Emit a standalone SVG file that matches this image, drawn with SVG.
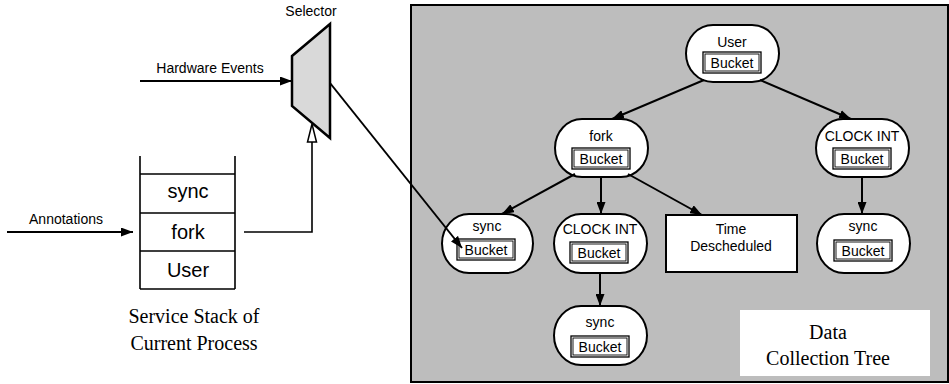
<svg xmlns="http://www.w3.org/2000/svg" width="949" height="384" viewBox="0 0 949 384">
  <defs>
    <marker id="arrow" markerUnits="userSpaceOnUse" markerWidth="13" markerHeight="9" refX="12" refY="4.5" orient="auto">
      <path d="M0,0 L12,4.5 L0,9 z" fill="#000"/>
    </marker>
    <style>
      .sans { font-family: "Liberation Sans", Arial, sans-serif; fill: #000; }
      .serif { font-family: "Liberation Serif", "Times New Roman", serif; fill: #000; }
      .lbl { font-size: 14px; text-anchor: middle; }
      .cell { font-size: 20px; text-anchor: middle; }
      .cap { font-size: 20px; text-anchor: middle; }
      .node { fill: #fff; stroke: #000; stroke-width: 2; }
      .bucket-o { fill: #fff; stroke: #000; stroke-width: 1.3; }
      .bucket-i { fill: none; stroke: #000; stroke-width: 0.9; }
      .edge { stroke: #000; stroke-width: 2; fill: none; marker-end: url(#arrow); }
      .thin { stroke: #000; stroke-width: 1.6; fill: none; }
    </style>
    <!-- bucket box placed inside each tree node -->
    <g id="bucket">
      <rect class="bucket-o" x="-29" y="0" width="58" height="21"/>
      <rect class="bucket-i" x="-27" y="2" width="54" height="17"/>
      <text class="sans lbl" x="0" y="15.5">Bucket</text>
    </g>
  </defs>

  <!-- data collection tree panel -->
  <rect x="411" y="5" width="537" height="377" fill="#bdbdbd" stroke="#000" stroke-width="2"/>
  <rect x="740" y="310" width="190" height="66" fill="#fff"/>
  <text class="serif cap" x="828" y="339">Data</text>
  <text class="serif cap" x="828" y="365">Collection Tree</text>

  <!-- selector -->
  <g id="selector">
    <polygon points="292,56 330,24 330,138 292,106" fill="#d9d9d9" stroke="#000" stroke-width="2.5" stroke-linejoin="miter"/>
    <text class="sans lbl" x="311" y="16">Selector</text>
  </g>

  <!-- service stack -->
  <g id="stack">
    <path class="thin" d="M140,156 V289 M235,156 V289 M140,174 H235 M140,213 H235 M140,251 H235 M140,289 H235"/>
    <text class="sans cell" x="188" y="198">sync</text>
    <text class="sans cell" x="188" y="239">fork</text>
    <text class="sans cell" x="188" y="277">User</text>
    <text class="serif cap" x="194" y="323">Service Stack of</text>
    <text class="serif cap" x="194" y="350">Current Process</text>
  </g>

  <!-- tree nodes -->
  <g id="n-user">
    <rect class="node" x="686" y="25" width="93" height="57" rx="27" ry="28.5"/>
    <text class="sans lbl" x="732" y="47">User</text>
    <use href="#bucket" x="732" y="52"/>
  </g>
  <g id="n-fork">
    <rect class="node" x="555" y="119" width="93" height="58" rx="27" ry="29"/>
    <text class="sans lbl" x="601" y="141">fork</text>
    <use href="#bucket" x="601" y="148"/>
  </g>
  <g id="n-clock-r">
    <rect class="node" x="816" y="119" width="93" height="58" rx="27" ry="29"/>
    <text class="sans lbl" x="862" y="141">CLOCK INT</text>
    <use href="#bucket" x="862" y="148"/>
  </g>
  <g id="n-sync-l">
    <rect class="node" x="442" y="214" width="91" height="59" rx="27" ry="29.5"/>
    <text class="sans lbl" x="487" y="231">sync</text>
    <use href="#bucket" x="486" y="239"/>
  </g>
  <g id="n-clock-m">
    <rect class="node" x="554" y="214" width="93" height="59" rx="27" ry="29.5"/>
    <text class="sans lbl" x="600" y="234">CLOCK INT</text>
    <use href="#bucket" x="599" y="242"/>
  </g>
  <g id="n-time">
    <rect class="node" x="666" y="215" width="131" height="57"/>
    <text class="sans lbl" x="731" y="234">Time</text>
    <text class="sans lbl" x="731" y="251">Descheduled</text>
  </g>
  <g id="n-sync-r">
    <rect class="node" x="817" y="214" width="93" height="59" rx="27" ry="29.5"/>
    <text class="sans lbl" x="863" y="231">sync</text>
    <use href="#bucket" x="863" y="240"/>
  </g>
  <g id="n-sync-b">
    <rect class="node" x="554" y="306" width="93" height="59" rx="27" ry="29.5"/>
    <text class="sans lbl" x="600" y="327">sync</text>
    <use href="#bucket" x="600" y="336"/>
  </g>

  <!-- connectors -->
  <g id="connectors">
    <line class="edge" x1="140" y1="81" x2="292" y2="81"/>
    <text class="sans lbl" x="210" y="73">Hardware Events</text>
    <line class="edge" x1="7" y1="232" x2="133" y2="232"/>
    <text class="sans lbl" x="66" y="224">Annotations</text>
    <path class="thin" d="M244,232 H312 V142"/>
    <polygon points="312,124 307.5,142 316.5,142" fill="#fff" stroke="#000" stroke-width="1.5" stroke-linejoin="miter"/>
    <line class="edge" x1="330" y1="83" x2="462" y2="248" stroke-width="2.4"/>
    <line class="edge" x1="704" y1="80" x2="612" y2="119"/>
    <line class="edge" x1="760" y1="80" x2="851" y2="119"/>
    <line class="edge" x1="575" y1="174" x2="502" y2="214"/>
    <line class="edge" x1="601" y1="177" x2="601" y2="214"/>
    <line class="edge" x1="628" y1="174" x2="702" y2="215"/>
    <line class="edge" x1="862" y1="177" x2="862" y2="214"/>
    <line class="edge" x1="600" y1="273" x2="600" y2="306"/>
  </g>
</svg>
